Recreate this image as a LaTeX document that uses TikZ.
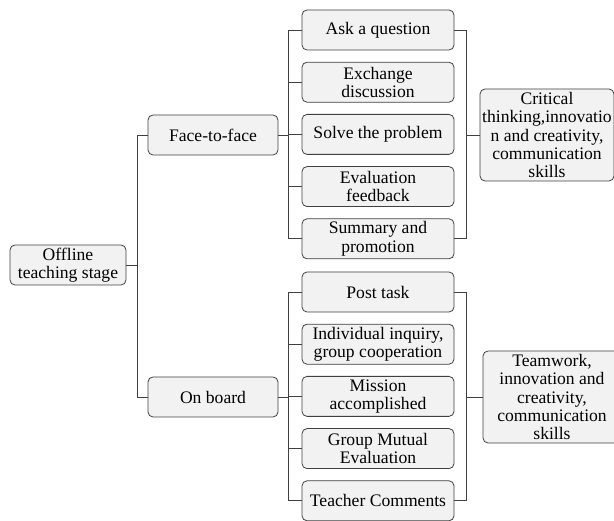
\documentclass[tikz,border=0pt]{standalone}
\usepackage{fontspec}
\setmainfont{Liberation Serif}
\usetikzlibrary{positioning}
\definecolor{boxgray}{HTML}{F2F2F2}
\definecolor{linegray}{HTML}{404040}

\begin{document}
\begin{tikzpicture}[x=1pt, y=1pt, node distance=52.2pt,
    card/.style={draw=linegray, fill=boxgray, rounded corners=5pt, align=center, inner sep=0pt, minimum height=40pt, line width=0.8pt, font=\fontsize{17.6}{18.2}\selectfont},
    wire/.style={draw=linegray, line width=0.8pt}]
    \useasboundingbox (0,0) rectangle (614,-521);
    \clip (0,0) rectangle (614,-521);

    % Nodes {root, face, board}
    \node [card, minimum width=116pt]  (root)  at (68,-265)  {Offline\\teaching stage};
    \node [card, minimum width=130pt]  (face)  at (213,-135) {Face-to-face};
    \node [card, minimum width=130pt]  (board) at (213,-397) {On board};

    % Nodes {f1 .. f5, out1}
    \node [card, minimum width=152pt]  (f1) at (378,-30)  {Ask a question};
    \node [card, minimum width=152pt]  (f2) [below of=f1] {Exchange\\discussion};
    \node [card, minimum width=152pt]  (f3) [below of=f2] {Solve the problem};
    \node [card, minimum width=152pt]  (f4) [below of=f3] {Evaluation\\feedback};
    \node [card, minimum width=152pt]  (f5) [below of=f4] {Summary and\\promotion};
    \node [card, minimum width=134pt, minimum height=92pt] (out1) at (547,-135)
        {Critical\\thinking,innovatio\\n and creativity,\\communication\\skills};

    % Nodes {b1 .. b5, out2}
    \node [card, minimum width=152pt]  (b1) at (378,-292) {Post task};
    \node [card, minimum width=152pt]  (b2) [below of=b1] {Individual inquiry,\\group cooperation};
    \node [card, minimum width=152pt]  (b3) [below of=b2] {Mission\\accomplished};
    \node [card, minimum width=152pt]  (b4) [below of=b3] {Group Mutual\\Evaluation};
    \node [card, minimum width=152pt]  (b5) [below of=b4] {Teacher Comments};
    \node [card, minimum width=138pt, minimum height=92pt] (out2) at (552,-397)
        {Teamwork,\\innovation and\\creativity,\\communication\\skills};

    % Paths
    \draw [wire] (root.east) -- ++(11,0) coordinate (j0);
    \draw [wire] (j0) |- (face);
    \draw [wire] (j0) |- (board);

    \draw [wire] (face.east) -- ++(10,0) coordinate (j1);
    \foreach \n in {f1,f2,f3,f4,f5} \draw [wire] (j1) |- (\n);
    \draw [wire] (out1.west) -- ++(-13,0) coordinate (k1);
    \foreach \n in {f1,f5} \draw [wire] (\n) -| (k1);

    \draw [wire] (board.east) -- ++(10,0) coordinate (j2);
    \foreach \n in {b1,b2,b3,b4,b5} \draw [wire] (j2) |- (\n);
    \draw [wire] (out2.west) -- ++(-16,0) coordinate (k2);
    \foreach \n in {b1,b5} \draw [wire] (\n) -| (k2);

\end{tikzpicture}
\end{document}
